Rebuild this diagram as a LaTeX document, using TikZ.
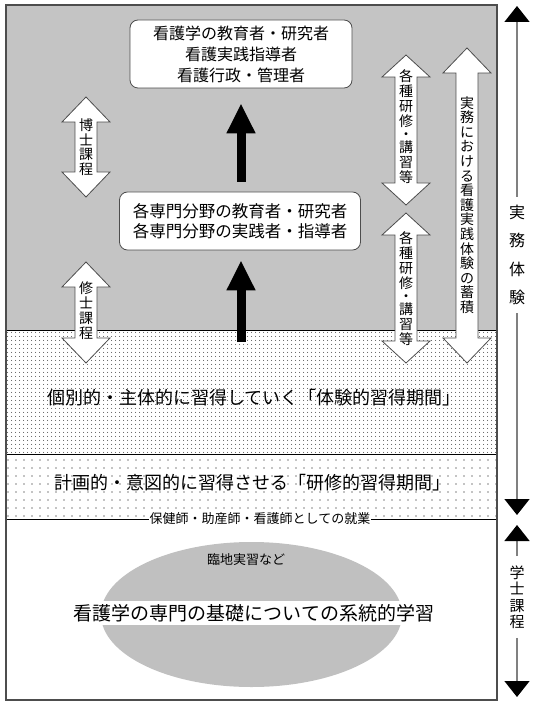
\documentclass[tikz,border=0pt]{standalone}
\usepackage{fontspec}
\setmainfont{Noto Sans CJK JP}
\usepackage{tikz}
\usetikzlibrary{arrows.meta,positioning,calc,shapes.geometric,patterns,patterns.meta}
\usepackage{xcolor}
\definecolor{edge}{HTML}{4D4D4D}
\definecolor{ovalgray}{HTML}{C0C0C0}
\definecolor{scalegray}{HTML}{808080}

\newcommand{\dblarrow}[4]{%
  \filldraw[blockarrow] (#1,#2) -- ({#1+24},{#2+#4}) -- ({#1+11},{#2+#4}) -- ({#1+11},{#3-#4}) -- ({#1+24},{#3-#4}) -- (#1,#3) -- ({#1-24},{#3-#4}) -- ({#1-11},{#3-#4}) -- ({#1-11},{#2+#4}) -- ({#1-24},{#2+#4}) -- cycle;}

\begin{document}
\begin{tikzpicture}[
  x=1pt,y=-1pt,
  blockarrow/.style={draw=edge,fill=white,line width=.8pt,line join=miter},
  rolebox/.style={draw=edge,fill=white,rounded corners=8pt,line width=.8pt,align=center,inner sep=0pt},
  vtext/.style={align=center,inner sep=0pt,font=\fontsize{14}{15}\selectfont},
  bigarrow/.style={-{Triangle[length=30pt,width=27pt]},line width=9pt},
  sidearrow/.style={-{Triangle[length=16pt,width=25pt,color=black]},draw=scalegray,line width=1.5pt},
  band/.style={draw=black,line width=.6pt},
  phase/.style={font=\fontsize{18}{20}\selectfont}
]
\useasboundingbox (0,0) rectangle (536,708);
\fill[pattern={Dots[distance=2pt,radius=.6pt]}] (6,5) rectangle (497,330);
\fill[pattern={Dots[distance=4pt,radius=.55pt]}] (6,330) rectangle (497,454);
\fill[pattern={Dots[distance=8pt,radius=.55pt]}] (6,454) rectangle (497,519);
\draw[band] (6,330) -- (497,330);
\draw[band] (6,454) -- (497,454);
\draw[band] (6,519) -- (497,519);
\draw[draw=edge,line width=1.2pt] (6,5) rectangle (497,700);

\node[rolebox,minimum width=222pt,minimum height=68pt,font=\fontsize{16}{21}\selectfont] (leaders) at (241,54) {看護学の教育者・研究者\\看護実践指導者\\看護行政・管理者};
\node[rolebox,minimum width=241pt,minimum height=58pt,font=\fontsize{16.5}{20}\selectfont] (experts) at (240,221) {各専門分野の教育者・研究者\\各専門分野の実践者・指導者};
\coordinate (start) at (241,342);
\draw[bigarrow,shorten >=10pt] (start) -- (start |- experts.south);
\draw[bigarrow,shorten <=10pt,shorten >=15pt] (experts.north -| start) -- (leaders.south -| start);

\dblarrow{86}{97}{197}{25}
\node[vtext,font=\fontsize{14}{14.5}\selectfont] (hakushi) at (86,147) {博\\士\\課\\程};
\dblarrow{86}{262}{363}{25}
\node[vtext] (shushi) at (86,311) {修\\士\\課\\程};
\dblarrow{406}{55}{205}{22}
\node[vtext] (kenshuA) at (406,127) {各\\種\\研\\修\\[-2pt]・\\[-2pt]講\\習\\等};
\dblarrow{406}{213}{363}{22}
\node[vtext] (kenshuB) at (406,289) {各\\種\\研\\修\\[-2pt]・\\[-2pt]講\\習\\等};
\dblarrow{467}{48}{363}{25}
\node[vtext,font=\fontsize{14}{14.6}\selectfont] (chikuseki) at (467,205) {実\\務\\に\\お\\け\\る\\看\\護\\実\\践\\体\\験\\の\\蓄\\積};

\node[phase] (taiken) at (254,398) {個別的・主体的に習得していく「体験的習得期間」};
\node[phase] (kenshu) at (252,483) {計画的・意図的に習得させる「研修的習得期間」};
\node[fill=white,inner sep=1pt,font=\fontsize{13}{14}\selectfont] (shugyo) at (260,519) {保健師・助産師・看護師としての就業};

\node[ellipse,fill=ovalgray,minimum width=301pt,minimum height=145pt,inner sep=0pt] (kiso) at (251.5,614.5) {};
\node[font=\fontsize{13}{14}\selectfont] (rinchi) at (246,560) {臨地実習など};
\node[fill=white,inner xsep=2pt,inner ysep=3pt,font=\fontsize{19}{20}\selectfont] (keito) at (254,613) {看護学の専門の基礎についての系統的学習};

\coordinate (jtop) at (517,6);
\coordinate (jbot) at (517,515);
\coordinate (gtop) at (517,525);
\coordinate (gbot) at (517,697);
\node[vtext,font=\fontsize{16}{28.3}\selectfont,inner ysep=8pt] (jitsumu) at (517,255) {実\\務\\体\\験};
\node[vtext,font=\fontsize{15}{16.5}\selectfont,inner ysep=9pt] (gakushi) at (517,597) {学\\士\\課\\程};
\draw[sidearrow] (jitsumu) -- (jtop);
\draw[sidearrow] (jitsumu) -- (jbot);
\draw[sidearrow] (gakushi) -- (gtop);
\draw[sidearrow] (gakushi) -- (gbot);
\end{tikzpicture}
\end{document}
